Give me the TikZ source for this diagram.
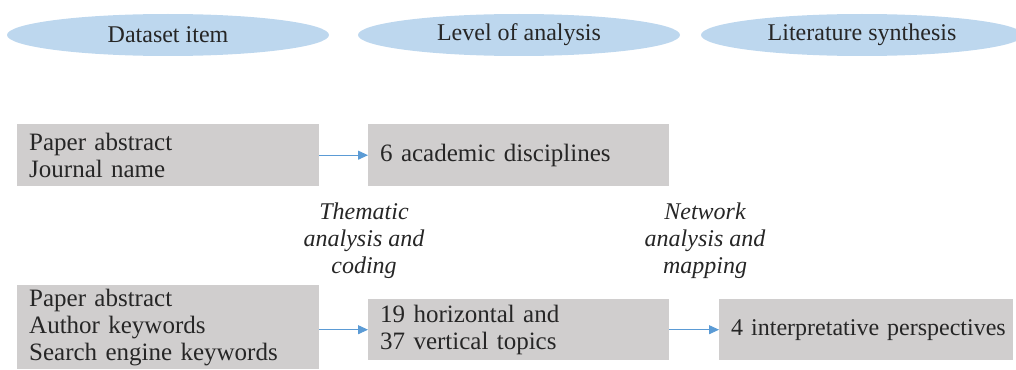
\documentclass[tikz,border=0pt]{standalone}
\usepackage{fontspec}
\setmainfont{Liberation Serif}
\usetikzlibrary{shapes.geometric,arrows.meta}
\definecolor{ellfill}{HTML}{BDD7EE}
\definecolor{boxfill}{HTML}{D0CECE}
\definecolor{arrowc}{HTML}{5B9BD5}
\definecolor{txt}{HTML}{262626}
\begin{document}
\begin{tikzpicture}[x=1pt,y=-1pt,
  ell/.style={ellipse, fill=ellfill, minimum width=322pt, minimum height=42pt, inner sep=0pt,
    text=txt, font=\fontsize{24}{27}\selectfont},
  gbox/.style={fill=boxfill, anchor=north west, inner xsep=12pt, inner ysep=0pt,
    text=txt, align=left, font=\fontsize{25}{27}\selectfont},
  lab/.style={align=center, text=txt, font=\fontsize{24}{27}\selectfont\itshape},
  conn/.style={draw=arrowc, line width=1pt, -{Triangle[length=10pt,width=9pt]}}
]
\useasboundingbox (0,0) rectangle (1016,369);
\node[ell] (e1) at (168,35) {Dataset item};
\node[ell] (e2) at (519,35) {Level of analysis};
\node[ell] (e3) at (862,35) {Literature synthesis};

\node[gbox, minimum width=302pt, minimum height=62pt, text width=278pt] (b1) at (17,124) {Paper abstract\\Journal name};
\node[gbox, minimum width=301pt, minimum height=62pt, text width=277pt] (b2) at (368,124) {6 academic disciplines};

\node[lab] (l1) at (364,241) {Thematic\\analysis and\\coding};
\node[lab] (l2) at (705,241) {Network\\analysis and\\mapping};

\node[gbox, minimum width=302pt, minimum height=84pt, text width=278pt] (b3) at (17,285) {Paper abstract\\Author keywords\\Search engine keywords};
\node[gbox, minimum width=301pt, minimum height=61pt, text width=277pt] (b4) at (368,299) {19 horizontal and\\37 vertical topics};
\node[gbox, minimum width=294pt, minimum height=61pt, text width=280pt, inner xsep=7pt, font=\fontsize{24}{27}\selectfont] (b5) at (719,299) {\hspace*{5pt}\mbox{4 interpretative perspectives}};

\draw[conn] (b1.east) -- (b2.west);
\draw[conn] (b3.east |- b4.west) -- (b4.west);
\draw[conn] (b4.east) -- (b5.west);
\end{tikzpicture}
\end{document}
